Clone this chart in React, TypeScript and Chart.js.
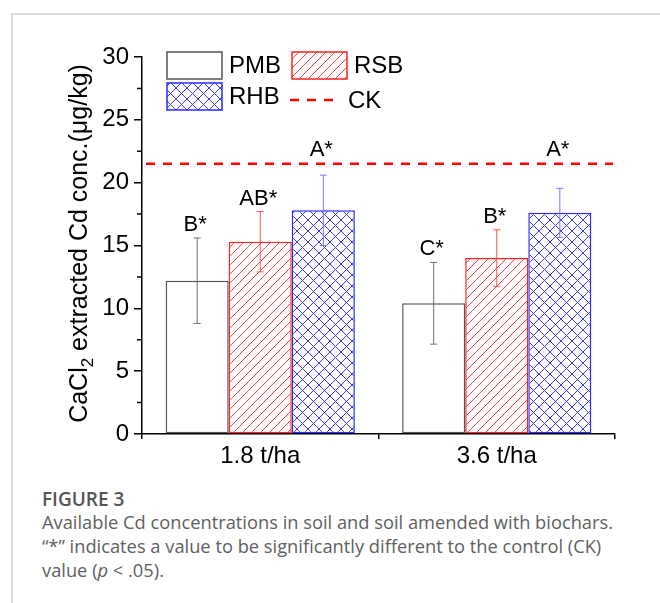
import React, { useEffect, useRef } from "react";
import { Chart, registerables } from "chart.js";

Chart.register(...registerables);

// ---------- data ----------
const categories = ["1.8 t/ha", "3.6 t/ha"];
const seriesNames = ["PMB", "RSB", "RHB"];
const pmbValues = [12.2, 10.4];
const rsbValues = [15.3, 14.0];
const rhbValues = [17.8, 17.6];
const pmbErrors = [3.4, 3.25];
const rsbErrors = [2.4, 2.25];
const rhbErrors = [2.8, 1.95];
const pmbSig = ["B*", "C*"];
const rsbSig = ["AB*", "B*"];
const rhbSig = ["A*", "A*"];
const ckName = "CK";
const ckValue = 21.5;
const yMin = 0;
const yMax = 30;
const yStep = 5;
const yTitleMain = "CaCl";
const yTitleSub = "2";
const yTitleRest = " extracted Cd conc.(\u03bcg/kg)";

const FONT = "'Liberation Sans', Arial, sans-serif";

function makePattern(kind: "diag" | "cross", color: string, size: number) {
  const c = document.createElement("canvas");
  c.width = size;
  c.height = size;
  const g = c.getContext("2d")!;
  g.fillStyle = "#ffffff";
  g.fillRect(0, 0, size, size);
  g.strokeStyle = color;
  g.lineWidth = 1;
  g.beginPath();
  g.moveTo(-1, size + 1);
  g.lineTo(size + 1, -1);
  g.moveTo(-1, 1);
  g.lineTo(1, -1);
  g.moveTo(size - 1, size + 1);
  g.lineTo(size + 1, size - 1);
  if (kind === "cross") {
    g.moveTo(-1, -1);
    g.lineTo(size + 1, size + 1);
    g.moveTo(size - 1, -1);
    g.lineTo(size + 1, 1);
    g.moveTo(-1, size - 1);
    g.lineTo(1, size + 1);
  }
  g.stroke();
  return g.createPattern(c, "repeat")!;
}

const overlayPlugin = {
  id: "overlay",
  afterDatasetsDraw(chart: any) {
    const ctx = chart.ctx as CanvasRenderingContext2D;
    const ys = chart.scales.y;
    const area = chart.chartArea;
    const ckY = ys.getPixelForValue(ckValue);

    // CK dashed line
    ctx.save();
    ctx.strokeStyle = "#ff0000";
    ctx.lineWidth = 2.5;
    ctx.setLineDash([9, 8]);
    ctx.beginPath();
    ctx.moveTo(area.left + 4, ckY);
    ctx.lineTo(area.right - 2, ckY);
    ctx.stroke();
    ctx.restore();

    // error bars + significance letters
    chart.data.datasets.forEach((ds: any, i: number) => {
      const meta = chart.getDatasetMeta(i);
      meta.data.forEach((bar: any, j: number) => {
        const v = ds.data[j];
        const e = ds.errors[j];
        const yt = ys.getPixelForValue(v + e);
        const yb = ys.getPixelForValue(v - e);
        const x = bar.x;
        ctx.save();
        ctx.strokeStyle = ds.errorColor;
        ctx.lineWidth = 1;
        ctx.beginPath();
        ctx.moveTo(x, yt);
        ctx.lineTo(x, yb);
        ctx.moveTo(x - 3.5, yt);
        ctx.lineTo(x + 3.5, yt);
        ctx.moveTo(x - 3.5, yb);
        ctx.lineTo(x + 3.5, yb);
        ctx.stroke();
        ctx.restore();

        let base = yt - 7;
        if (base - 17 < ckY + 4) base = ckY - 8;
        ctx.save();
        ctx.fillStyle = "#000";
        ctx.font = `22px ${FONT}`;
        ctx.textAlign = "center";
        ctx.textBaseline = "alphabetic";
        ctx.fillText(ds.sig[j], x - 2, base);
        ctx.restore();
      });
    });

    // minor ticks on y axis
    ctx.save();
    ctx.strokeStyle = "#000";
    ctx.lineWidth = 1.5;
    ctx.beginPath();
    for (let v = yMin + yStep / 2; v < yMax; v += yStep) {
      const py = ys.getPixelForValue(v);
      ctx.moveTo(area.left - 5, py);
      ctx.lineTo(area.left, py);
    }
    ctx.stroke();
    ctx.restore();

    // y axis title with subscript
    ctx.save();
    const cy = (area.top + area.bottom) / 2 - 2;
    ctx.translate(87, cy);
    ctx.rotate(-Math.PI / 2);
    ctx.fillStyle = "#000";
    ctx.textBaseline = "alphabetic";
    ctx.textAlign = "left";
    const mainFont = `25px ${FONT}`;
    const subFont = `17px ${FONT}`;
    ctx.font = mainFont;
    const w1 = ctx.measureText(yTitleMain).width;
    const w3 = ctx.measureText(yTitleRest).width;
    ctx.font = subFont;
    const w2 = ctx.measureText(yTitleSub).width;
    let sx = -(w1 + w2 + w3) / 2;
    ctx.font = mainFont;
    ctx.fillText(yTitleMain, sx, 0);
    sx += w1;
    ctx.font = subFont;
    ctx.fillText(yTitleSub, sx, 6);
    sx += w2;
    ctx.font = mainFont;
    ctx.fillText(yTitleRest, sx, 0);
    ctx.restore();

    // legend
    const dsets = chart.data.datasets;
    const boxW = 55;
    const boxH = 27;
    const cells = [
      { x: area.left + 25, y: area.top - 5, ds: dsets[0] },
      { x: area.left + 150, y: area.top - 5, ds: dsets[1] },
      { x: area.left + 25, y: area.top + 26, ds: dsets[2] },
    ];
    ctx.save();
    ctx.font = `24px ${FONT}`;
    ctx.textBaseline = "middle";
    ctx.textAlign = "left";
    cells.forEach((c) => {
      ctx.fillStyle = c.ds.backgroundColor;
      ctx.fillRect(c.x, c.y, boxW, boxH);
      ctx.strokeStyle = c.ds.borderColor;
      ctx.lineWidth = 1.5;
      ctx.strokeRect(c.x, c.y, boxW, boxH);
      ctx.fillStyle = "#000";
      ctx.fillText(c.ds.label, c.x + boxW + 7, c.y + boxH / 2 + 1);
    });
    const ly = area.top + 43;
    ctx.strokeStyle = "#ff0000";
    ctx.lineWidth = 2.5;
    ctx.setLineDash([9, 8]);
    ctx.beginPath();
    ctx.moveTo(area.left + 148, ly);
    ctx.lineTo(area.left + 196, ly);
    ctx.stroke();
    ctx.setLineDash([]);
    ctx.fillStyle = "#000";
    ctx.fillText(ckName, area.left + 206, ly + 1);
    ctx.restore();
  },
};

export default function App() {
  const ref = useRef<HTMLCanvasElement | null>(null);

  useEffect(() => {
    if (!ref.current) return;
    const rsbPattern = makePattern("diag", "#ff4040", 9);
    const rhbPattern = makePattern("cross", "#3a3aff", 11);
    const chart = new Chart(ref.current, {
      type: "bar",
      data: {
        labels: categories,
        datasets: [
          {
            label: seriesNames[0],
            data: pmbValues,
            backgroundColor: "#ffffff",
            borderColor: "#555555",
            borderWidth: 1.5,
            borderSkipped: false,
            errors: pmbErrors,
            errorColor: "#707070",
            sig: pmbSig,
          } as any,
          {
            label: seriesNames[1],
            data: rsbValues,
            backgroundColor: rsbPattern,
            borderColor: "#ff2020",
            borderWidth: 1.5,
            borderSkipped: false,
            errors: rsbErrors,
            errorColor: "#ff5555",
            sig: rsbSig,
          } as any,
          {
            label: seriesNames[2],
            data: rhbValues,
            backgroundColor: rhbPattern,
            borderColor: "#2a2aff",
            borderWidth: 1.5,
            borderSkipped: false,
            errors: rhbErrors,
            errorColor: "#7777ff",
            sig: rhbSig,
          } as any,
        ],
      },
      options: {
        responsive: false,
        animation: false,
        devicePixelRatio: 1,
        layout: { padding: { top: 57, right: 45, bottom: 0, left: 0 } },
        plugins: {
          legend: { display: false },
          tooltip: { enabled: false },
        },
        datasets: {
          bar: { barPercentage: 1, categoryPercentage: 0.8 },
        },
        scales: {
          x: {
            afterFit: (s: any) => {
              s.height = 46;
            },
            grid: {
              display: true,
              drawOnChartArea: false,
              drawTicks: true,
              tickLength: 5,
              color: "#000",
              lineWidth: 1.5,
              offset: true,
            },
            border: { display: true, color: "#000", width: 1.5 },
            ticks: {
              color: "#000",
              font: { family: FONT, size: 24 },
              padding: 3,
            },
          },
          y: {
            min: yMin,
            max: yMax,
            afterFit: (s: any) => {
              s.width = 142;
            },
            grid: {
              display: true,
              drawOnChartArea: false,
              drawTicks: true,
              tickLength: 8,
              color: "#000",
              lineWidth: 1.5,
            },
            border: { display: true, color: "#000", width: 1.5 },
            ticks: {
              stepSize: yStep,
              color: "#000",
              font: { family: FONT, size: 24 },
              padding: 5,
            },
          },
        },
      } as any,
      plugins: [overlayPlugin],
    });
    return () => chart.destroy();
  }, []);

  const capStyle: React.CSSProperties = {
    position: "absolute",
    left: 42,
    whiteSpace: "nowrap",
    fontFamily: "'Open Sans', sans-serif",
    color: "#606060",
    fontSize: 18.3,
    lineHeight: "20px",
  };

  return (
    <div style={{ position: "absolute", left: 0, top: 0, width: 660, height: 603, overflow: "hidden", background: "#fff" }}>
      <div
        style={{
          position: "absolute",
          left: 11,
          top: 13,
          width: 700,
          height: 620,
          borderTop: "2px solid #dcdcdc",
          borderLeft: "2px solid #dcdcdc",
        }}
      />
      <canvas ref={ref} width={660} height={480} style={{ position: "absolute", left: 0, top: 0, width: 660, height: 480 }} />
      <div style={{ ...capStyle, top: 489, fontSize: 19, fontWeight: 600, color: "#555" }}>FIGURE 3</div>
      <div style={{ ...capStyle, top: 512 }}>Available Cd concentrations in soil and soil amended with biochars.</div>
      <div style={{ ...capStyle, top: 536 }}>
        {"\u201c*\u201d indicates a value to be significantly different to the control (CK)"}
      </div>
      <div style={{ ...capStyle, top: 560 }}>
        value (<i>p</i> &lt; .05).
      </div>
    </div>
  );
}
